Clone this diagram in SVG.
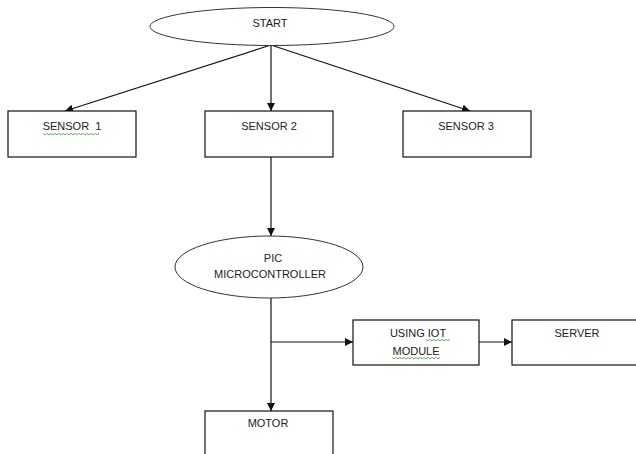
<svg xmlns="http://www.w3.org/2000/svg" width="636" height="454" viewBox="0 0 636 454">
<defs>
<marker id="arr" viewBox="0 0 10 10" refX="10" refY="5" markerWidth="8" markerHeight="8" markerUnits="userSpaceOnUse" orient="auto"><path d="M0,0 L10,5 L0,10 z" fill="#111"/></marker>
<style>
.box{fill:#fff;stroke:#111;stroke-width:1.2}
.ell{fill:#fff;stroke:#333;stroke-width:1}
.lbl{font-family:"Liberation Sans",Arial,sans-serif;font-size:11px;fill:#222;text-anchor:middle}
.con{fill:none;stroke:#111;stroke-width:1.2}
.sq{fill:none;stroke:#3a9a3a;stroke-width:0.8}
</style>
</defs>
<rect width="636" height="454" fill="#fff"/>
<g id="connectors">
<line class="con" x1="271" y1="45" x2="65" y2="111" marker-end="url(#arr)"/>
<line class="con" x1="271" y1="45" x2="271" y2="111" marker-end="url(#arr)"/>
<line class="con" x1="271" y1="45" x2="470" y2="111" marker-end="url(#arr)"/>
<line class="con" x1="271" y1="157" x2="271" y2="236" marker-end="url(#arr)"/>
<line class="con" x1="271" y1="282" x2="271" y2="411" marker-end="url(#arr)"/>
<line class="con" x1="271" y1="342" x2="353" y2="342" marker-end="url(#arr)"/>
<line class="con" x1="479" y1="342" x2="512" y2="342" marker-end="url(#arr)"/>
</g>
<g id="start">
<ellipse class="ell" cx="272" cy="26.5" rx="122" ry="19"/>
<text class="lbl" x="270" y="27">START</text>
</g>
<g id="sensor1">
<rect class="box" x="8" y="111" width="128" height="46"/>
<text class="lbl" x="72" y="130">SENSOR&#160; 1</text>
<path class="sq" d="M43,133.5 l2,1.2 l2,-1.2 l2,1.2 l2,-1.2 l2,1.2 l2,-1.2 l2,1.2 l2,-1.2 l2,1.2 l2,-1.2 l2,1.2 l2,-1.2 l2,1.2 l2,-1.2 l2,1.2 l2,-1.2 l2,1.2 l2,-1.2 l2,1.2 l2,-1.2 l2,1.2 l2,-1.2 l2,1.2 l2,-1.2 l2,1.2 l2,-1.2 l2,1.2 l2,-1.2"/>
</g>
<g id="sensor2">
<rect class="box" x="205" y="111" width="128" height="46"/>
<text class="lbl" x="269" y="130">SENSOR 2</text>
</g>
<g id="sensor3">
<rect class="box" x="403" y="111" width="128" height="46"/>
<text class="lbl" x="466" y="130">SENSOR 3</text>
</g>
<g id="pic">
<ellipse class="ell" cx="269" cy="267" rx="94" ry="31"/>
<text class="lbl" x="273" y="262">PIC</text>
<text class="lbl" x="270" y="278">MICROCONTROLLER</text>
</g>
<g id="iot">
<rect class="box" x="353" y="320" width="126" height="45"/>
<text class="lbl" x="418" y="337">USING IOT</text>
<text class="lbl" x="416" y="355">MODULE</text>
<path class="sq" d="M426,339.5 l2,1.2 l2,-1.2 l2,1.2 l2,-1.2 l2,1.2 l2,-1.2 l2,1.2 l2,-1.2 l2,1.2 l2,-1.2 l2,1.2 l2,-1.2"/>
<path class="sq" d="M392,357.5 l2,1.2 l2,-1.2 l2,1.2 l2,-1.2 l2,1.2 l2,-1.2 l2,1.2 l2,-1.2 l2,1.2 l2,-1.2 l2,1.2 l2,-1.2 l2,1.2 l2,-1.2 l2,1.2 l2,-1.2 l2,1.2 l2,-1.2 l2,1.2 l2,-1.2 l2,1.2 l2,-1.2 l2,1.2 l2,-1.2"/>
</g>
<g id="server">
<rect class="box" x="512" y="320" width="130" height="45"/>
<text class="lbl" x="577" y="337">SERVER</text>
</g>
<g id="motor">
<rect class="box" x="205" y="411" width="128" height="50"/>
<text class="lbl" x="268" y="427">MOTOR</text>
</g>
</svg>
